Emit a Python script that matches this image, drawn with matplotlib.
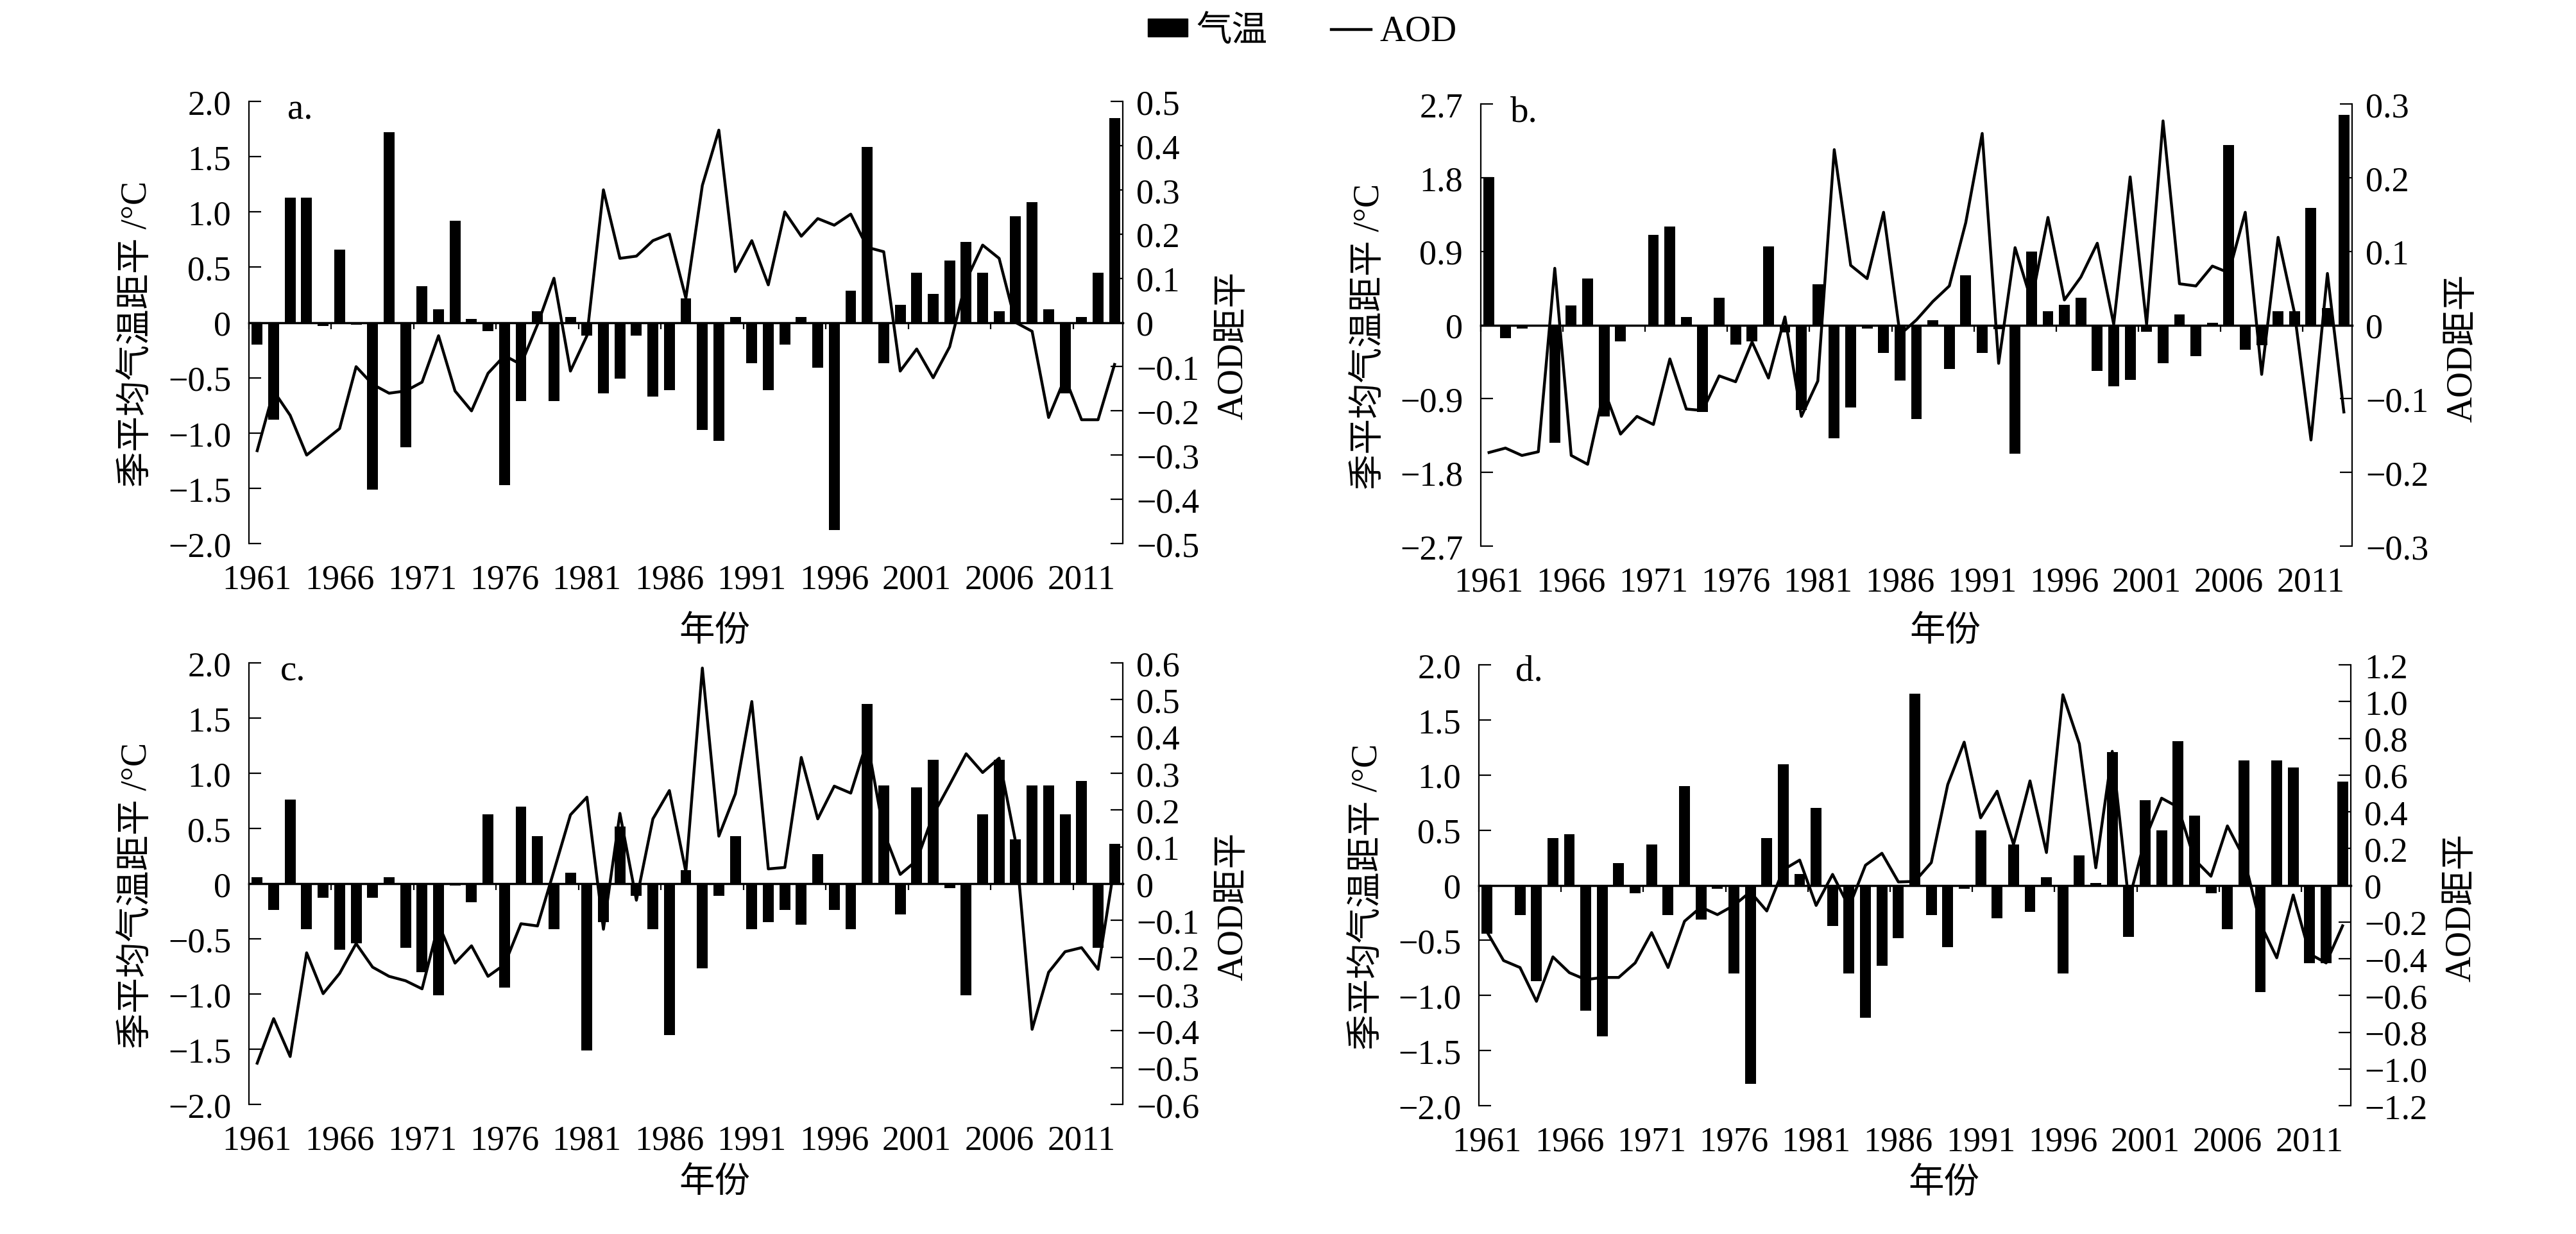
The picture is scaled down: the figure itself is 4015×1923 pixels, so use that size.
import matplotlib
matplotlib.use('Agg')
import matplotlib.pyplot as plt
from matplotlib.patches import Patch
from matplotlib.lines import Line2D
import numpy as np

plt.rcParams['font.family'] = ['Liberation Serif', 'Noto Sans CJK SC']
plt.rcParams['axes.unicode_minus'] = True

# ---------------- data ----------------
years = list(range(1961, 2014))
year_tick_labels = [str(y) for y in years[::5]]

temp_a = [-0.20, -0.88, 1.13, 1.13, -0.03, 0.66, -0.02, -1.51, 1.72, -1.13,
          0.33, 0.12, 0.92, 0.03, -0.08, -1.47, -0.71, 0.10, -0.71, 0.05,
          -0.12, -0.64, -0.51, -0.12, -0.67, -0.61, 0.22, -0.97, -1.07, 0.05,
          -0.37, -0.61, -0.20, 0.05, -0.41, -1.88, 0.29, 1.59, -0.37, 0.16,
          0.45, 0.26, 0.56, 0.73, 0.45, 0.10, 0.96, 1.09, 0.12, -0.64,
          0.05, 0.45, 1.85]
aod_a = [-0.29, -0.155, -0.21, -0.30, -0.27, -0.24, -0.10, -0.14, -0.16, -0.155,
         -0.135, -0.03, -0.155, -0.20, -0.115, -0.075, -0.095, -0.005, 0.10, -0.11,
         -0.03, 0.30, 0.145, 0.15, 0.185, 0.20, 0.055, 0.31, 0.435, 0.115,
         0.185, 0.085, 0.25, 0.195, 0.235, 0.22, 0.245, 0.17, 0.16, -0.11,
         -0.06, -0.125, -0.055, 0.095, 0.175, 0.145, 0.0, -0.02, -0.215, -0.125,
         -0.22, -0.22, -0.095]

temp_b = [1.81, -0.16, -0.04, -0.02, -1.44, 0.24, 0.57, -1.12, -0.20, -0.02,
          1.10, 1.20, 0.10, -1.06, 0.33, -0.24, -0.20, 0.96, -0.09, -1.04,
          0.50, -1.38, -1.01, -0.04, -0.34, -0.68, -1.15, 0.06, -0.54, 0.61,
          -0.34, -0.05, -1.57, 0.90, 0.17, 0.25, 0.33, -0.56, -0.75, -0.67,
          -0.08, -0.47, 0.13, -0.38, 0.03, 2.20, -0.30, -0.25, 0.17, 0.17,
          1.43, 0.21, 2.57]
aod_b = [-0.173, -0.167, -0.177, -0.172, 0.077, -0.177, -0.189, -0.088, -0.148, -0.124,
         -0.135, -0.046, -0.114, -0.116, -0.069, -0.077, -0.023, -0.072, 0.011, -0.124,
         -0.076, 0.238, 0.081, 0.063, 0.153, -0.013, 0.007, 0.032, 0.053, 0.139,
         0.260, -0.052, 0.105, 0.032, 0.146, 0.034, 0.065, 0.111, 0.001, 0.201,
         0.001, 0.277, 0.056, 0.053, 0.080, 0.071, 0.153, -0.067, 0.119, 0.016,
         -0.156, 0.070, -0.118]

temp_c = [0.06, -0.24, 0.76, -0.41, -0.13, -0.60, -0.54, -0.13, 0.06, -0.58,
          -0.80, -1.01, -0.02, -0.17, 0.63, -0.94, 0.70, 0.43, -0.41, 0.10,
          -1.51, -0.35, 0.52, -0.11, -0.41, -1.37, 0.12, -0.77, -0.11, 0.43,
          -0.41, -0.35, -0.24, -0.37, 0.27, -0.24, -0.41, 1.63, 0.89, -0.28,
          0.87, 1.12, -0.04, -1.01, 0.63, 1.12, 0.40, 0.89, 0.89, 0.63,
          0.93, -0.58, 0.36]
aod_c = [-0.488, -0.367, -0.470, -0.188, -0.299, -0.244, -0.163, -0.227, -0.252, -0.264,
         -0.286, -0.110, -0.216, -0.169, -0.252, -0.220, -0.109, -0.115, 0.035, 0.187,
         0.235, -0.124, 0.191, -0.045, 0.176, 0.253, 0.032, 0.586, 0.129, 0.244,
         0.495, 0.040, 0.044, 0.343, 0.176, 0.265, 0.246, 0.388, 0.140, 0.025,
         0.063, 0.187, 0.269, 0.353, 0.302, 0.341, 0.113, -0.396, -0.241, -0.185,
         -0.174, -0.233, 0.050]

temp_d = [-0.44, -0.01, -0.27, -0.87, 0.43, 0.46, -1.14, -1.37, 0.20, -0.07,
          0.37, -0.27, 0.90, -0.31, -0.03, -0.80, -1.80, 0.43, 1.10, 0.10,
          0.70, -0.37, -0.80, -1.20, -0.73, -0.48, 1.74, -0.27, -0.56, -0.03,
          0.50, -0.30, 0.37, -0.24, 0.07, -0.80, 0.27, 0.02, 1.21, -0.47,
          0.77, 0.50, 1.31, 0.63, -0.07, -0.40, 1.13, -0.97, 1.13, 1.07,
          -0.71, -0.71, 0.94]
aod_d = [-0.255, -0.410, -0.448, -0.632, -0.390, -0.476, -0.514, -0.502, -0.502, -0.423,
         -0.258, -0.448, -0.196, -0.119, -0.160, -0.110, -0.036, -0.140, 0.084, 0.137,
         -0.110, 0.059, -0.119, 0.109, 0.174, 0.018, 0.021, 0.123, 0.548, 0.779,
         0.367, 0.512, 0.222, 0.568, 0.178, 1.037, 0.770, 0.095, 0.729, -0.086,
         0.252, 0.474, 0.425, 0.140, 0.049, 0.323, 0.150, -0.209, -0.395, -0.053,
         -0.374, -0.423, -0.221]

temp_ticks_a = [-2.0, -1.5, -1.0, -0.5, 0.0, 0.5, 1.0, 1.5, 2.0]
aod_ticks_a = [-0.5, -0.4, -0.3, -0.2, -0.1, 0.0, 0.1, 0.2, 0.3, 0.4, 0.5]
temp_ticks_b = [-2.7, -1.8, -0.9, 0.0, 0.9, 1.8, 2.7]
aod_ticks_b = [-0.3, -0.2, -0.1, 0.0, 0.1, 0.2, 0.3]
temp_ticks_c = [-2.0, -1.5, -1.0, -0.5, 0.0, 0.5, 1.0, 1.5, 2.0]
aod_ticks_c = [-0.6, -0.5, -0.4, -0.3, -0.2, -0.1, 0.0, 0.1, 0.2, 0.3, 0.4, 0.5, 0.6]
temp_ticks_d = [-2.0, -1.5, -1.0, -0.5, 0.0, 0.5, 1.0, 1.5, 2.0]
aod_ticks_d = [-1.2, -1.0, -0.8, -0.6, -0.4, -0.2, 0.0, 0.2, 0.4, 0.6, 0.8, 1.0, 1.2]

panel_letters = ['a.', 'b.', 'c.', 'd.']
temp_label = '季平均气温距平 /°C'
aod_label = 'AOD距平'
x_label = '年份'
legend_labels = ['气温', 'AOD']

# ---------------- layout ----------------
W, H = 4016, 1924
fig = plt.figure(figsize=(W / 100, H / 100), dpi=100)
fig.patch.set_facecolor('white')


def rect(l, r, t, b):
    return [l / W, (H - b) / H, (r - l) / W, (b - t) / H]


panels = [
    dict(rect=rect(388, 1750, 159, 848), temp=temp_a, aod=aod_a,
         tt=temp_ticks_a, at=aod_ticks_a, letter_pos=(0.044, 0.962), xlab_y=-0.200),
    dict(rect=rect(2308, 3666, 163, 852), temp=temp_b, aod=aod_b,
         tt=temp_ticks_b, at=aod_ticks_b, letter_pos=(0.034, 0.961), xlab_y=-0.195),
    dict(rect=rect(388, 1750, 1034, 1722), temp=temp_c, aod=aod_c,
         tt=temp_ticks_c, at=aod_ticks_c, letter_pos=(0.036, 0.962), xlab_y=-0.179),
    dict(rect=rect(2305, 3664, 1037, 1724), temp=temp_d, aod=aod_d,
         tt=temp_ticks_d, at=aod_ticks_d, letter_pos=(0.042, 0.966), xlab_y=-0.177),
]


def fmt(v):
    if abs(v) < 1e-9:
        return '0'
    return f'{v:.1f}'.replace('-', '\u2212')


FS = 39
LW_AX = 1.6
LW_LINE = 3.2
x = np.arange(len(years))

for i, p in enumerate(panels):
    ax = fig.add_axes(p['rect'])
    ax.bar(x, p['temp'], width=0.66, color='black', zorder=2)
    ax.set_xlim(-0.5, len(years) - 0.5)
    ax.set_ylim(p['tt'][0], p['tt'][-1])
    ax.set_yticks(p['tt'])
    ax.set_yticklabels([fmt(v) for v in p['tt']])
    ax.spines['top'].set_visible(False)
    ax.spines['right'].set_visible(False)
    ax.spines['bottom'].set_position(('data', 0))
    ax.spines['bottom'].set_linewidth(2.5)
    ax.spines['left'].set_linewidth(LW_AX)
    ax.tick_params(axis='y', direction='in', length=13.5, width=LW_AX,
                   labelsize=FS, pad=20)
    ax.set_xticks([])
    ax.set_xticks(np.arange(-0.5, len(years) - 1, 5), minor=True)
    ax.tick_params(axis='x', which='minor', direction='out', length=7,
                   width=LW_AX, labelbottom=False)
    sec = ax.secondary_xaxis(0)
    sec.set_xticks(x[::5])
    sec.set_xticklabels(year_tick_labels)
    sec.tick_params(length=0, pad=22, labelsize=FS)
    sec.spines['bottom'].set_visible(False)

    ax2 = ax.twinx()
    ax2.plot(x, p['aod'], color='black', lw=LW_LINE, zorder=3)
    ax2.set_ylim(p['at'][0], p['at'][-1])
    ax2.set_yticks(p['at'])
    ax2.set_yticklabels([fmt(v) for v in p['at']])
    for s in ['top', 'left', 'bottom']:
        ax2.spines[s].set_visible(False)
    ax2.spines['right'].set_linewidth(LW_AX)
    ax2.tick_params(axis='y', direction='in', length=13.5, width=LW_AX,
                    labelsize=FS, pad=15)

    ax.text(p['letter_pos'][0], p['letter_pos'][1], panel_letters[i],
            transform=ax.transAxes, fontsize=FS + 2, ha='left', va='baseline')
    ax.text(-0.127, 0.475, temp_label, transform=ax.transAxes, rotation=90,
            ha='center', va='center', fontsize=40)
    ax2.text(1.127, 0.45, aod_label, transform=ax2.transAxes, rotation=90,
             ha='center', va='center', fontsize=40)
    ax.text(0.533, p['xlab_y'], x_label, transform=ax.transAxes,
            ha='center', va='center', fontsize=40)

handles = [Patch(facecolor='black', edgecolor='black', label=legend_labels[0]),
           Line2D([0], [0], color='black', lw=LW_LINE, label=legend_labels[1])]
fig.legend(handles=handles, loc='center', bbox_to_anchor=(2030 / W, 1 - 50 / H),
           ncol=2, frameon=False, fontsize=40, handlelength=1.1, handleheight=0.4,
           handletextpad=0.25, columnspacing=1.8)

fig.savefig('out.png', dpi=100, facecolor='white')
